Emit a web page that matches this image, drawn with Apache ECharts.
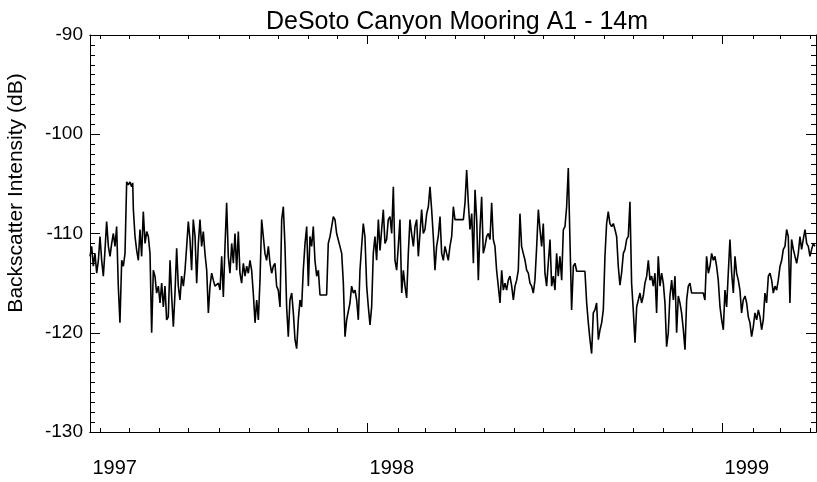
<!DOCTYPE html>
<html>
<head>
<meta charset="utf-8">
<script src="https://cdn.jsdelivr.net/npm/echarts@6/dist/echarts.min.js"></script>
<style>
html,body{margin:0;padding:0;background:#fff;}
#chart{width:817px;height:482px;}
</style>
</head>
<body>
<div id="chart"></div>
<script>
// time in days since 1997-01-01
const titleText = 'DeSoto Canyon Mooring A1 - 14m';
const yAxisName = 'Backscatter Intensity (dB)';
const yearLabels = ['1997', '1998', '1999'];
const yearLabelDays = [82, 367, 732];
const yearStartDays = [365, 730];
const monthStartDays = [90,120,151,181,212,243,273,304,334,365,396,424,455,485,516,546,577,608,638,669,699,730,761,789,820];
const yTicks = [-130, -120, -110, -100, -90];

const days = [
79.5,81.2,82.9,84.6,86.4,88.1,89.8,91.5,93.2,94.9,96.6,98.4,100.1,101.8,103.5,105.2,106.9,108.6,110.3,112.1,
113.8,115.5,117.2,118.9,120.6,122.3,123.4,124.1,125.8,127.5,129.2,130.9,132.6,134.3,136.1,137.8,139.5,141.2,142.9,144.6,
146.3,148.0,149.8,151.5,153.2,154.9,156.6,158.3,160.0,161.8,163.5,165.2,166.9,168.6,170.3,172.0,173.7,175.5,177.2,178.9,
180.6,182.3,184.0,185.7,187.5,189.2,190.9,192.6,194.3,196.0,197.7,199.5,201.2,202.9,204.6,206.3,208.0,209.7,211.5,213.2,
214.9,216.6,218.3,220.0,221.7,223.4,225.2,226.9,228.6,230.3,232.0,233.7,235.4,237.2,238.9,240.6,242.3,244.0,245.7,247.4,
249.2,250.9,252.6,254.3,256.0,257.7,259.4,261.1,262.9,264.6,266.3,268.0,269.7,271.4,273.1,274.9,276.6,278.3,280.0,281.7,
283.4,285.1,286.9,288.6,290.3,292.0,293.7,295.4,297.1,298.8,300.6,302.3,304.0,305.7,307.4,309.1,310.8,312.6,314.3,316.0,
322.8,324.5,326.3,328.0,329.7,331.4,333.1,334.8,336.5,338.3,340.0,341.7,343.4,345.1,346.8,348.5,350.3,352.0,353.7,355.4,
357.1,358.8,360.5,362.2,364.0,365.7,367.4,369.1,370.8,372.5,374.2,376.0,377.7,379.4,381.1,382.8,384.5,386.2,388.0,389.7,
391.4,393.1,394.8,396.5,398.2,400.0,401.7,403.4,405.1,406.8,408.5,410.2,412.0,413.7,415.4,417.1,418.8,420.5,422.2,423.9,
425.7,427.4,429.1,430.8,432.5,434.2,435.9,437.6,439.4,441.1,442.8,444.5,446.2,447.9,449.6,451.4,453.1,454.8,463.4,465.1,
466.8,468.5,470.2,472.0,473.7,475.4,477.1,478.8,480.5,482.2,483.9,485.6,487.4,489.1,490.8,492.5,494.2,495.9,497.6,499.3,
501.1,502.8,504.5,506.2,507.9,509.6,511.3,513.1,514.8,516.5,518.2,519.9,521.6,523.3,525.0,526.8,528.5,530.2,531.9,533.6,
535.3,537.0,538.8,540.5,542.2,543.9,545.6,547.3,549.0,550.7,552.5,554.2,555.9,557.6,559.3,561.0,562.7,564.5,566.2,567.9,
569.6,571.3,573.0,574.7,576.5,578.2,579.9,588.4,590.2,591.9,593.6,595.3,597.0,598.7,600.4,602.2,603.9,605.6,607.3,609.0,
610.7,612.4,614.1,615.9,617.6,619.3,621.0,622.7,624.4,626.1,627.9,629.6,631.3,633.0,634.7,636.4,638.1,639.9,641.6,643.3,
645.0,646.7,648.4,650.1,651.9,653.6,655.3,657.0,658.7,660.4,662.1,663.8,665.6,667.3,669.0,670.7,672.4,674.1,675.8,677.6,
679.3,681.0,682.7,684.4,686.1,687.8,689.6,691.3,693.0,694.7,696.4,698.1,710.1,711.8,713.5,715.3,717.0,718.7,720.4,722.1,
723.8,725.5,727.3,729.0,730.7,732.4,734.1,735.8,737.5,739.3,741.0,742.7,744.4,746.1,747.8,749.5,751.2,753.0,754.7,756.4,
758.1,759.8,761.5,763.2,765.0,766.7,768.4,770.1,771.8,773.5,775.2,777.0,778.7,780.4,782.1,783.8,785.5,787.2,789.0,790.7,
792.4,794.1,795.8,797.5,799.2,800.9,802.7,804.4,806.1,807.8,809.5,811.2,812.9,814.7,816.4,818.1,819.8,821.5,823.2,824.9
];

const values = [
-112.3,-111.3,-113.3,-112.0,-114.0,-112.7,-110.3,-112.7,-114.3,-111.7,-108.8,-111.3,-112.3,-111.0,-110.0,-111.3,-109.3,-115.3,-119.0,-112.7,
-113.3,-112.0,-104.8,-105.1,-104.8,-105.3,-104.9,-107.6,-110.3,-111.7,-112.7,-109.6,-112.3,-107.8,-111.0,-109.8,-110.3,-112.0,-120.0,-113.7,
-114.3,-116.0,-115.3,-117.0,-115.0,-117.4,-115.3,-118.7,-118.4,-112.7,-116.4,-119.4,-116.0,-111.5,-115.3,-116.7,-114.3,-115.3,-113.7,-111.3,
-108.8,-110.6,-113.7,-108.6,-110.3,-115.0,-111.0,-108.6,-111.3,-109.8,-112.0,-113.7,-118.0,-115.3,-114.0,-114.7,-115.3,-115.3,-115.0,-115.7,
-112.3,-116.4,-111.3,-106.9,-112.3,-114.0,-111.0,-113.0,-110.0,-113.7,-109.8,-114.0,-115.0,-113.0,-114.3,-113.3,-114.0,-112.7,-113.7,-116.0,
-119.0,-116.7,-118.7,-114.7,-108.6,-110.3,-112.0,-112.7,-111.3,-113.0,-114.0,-113.3,-113.0,-115.3,-115.7,-117.4,-108.6,-107.3,-111.3,-117.4,
-120.4,-116.7,-116.0,-118.0,-120.7,-121.6,-118.7,-116.7,-117.4,-113.7,-111.0,-109.3,-115.3,-110.3,-111.3,-109.3,-112.7,-114.3,-113.7,-116.2,
-116.2,-111.0,-110.3,-109.3,-108.3,-108.6,-110.0,-110.0,-111.3,-112.0,-115.0,-120.4,-118.7,-118.7,-117.0,-115.3,-116.0,-115.7,-116.7,-118.7,
-113.7,-111.3,-109.0,-110.3,-115.3,-117.4,-119.2,-117.4,-112.0,-110.3,-112.7,-108.6,-111.7,-109.6,-107.6,-111.0,-110.6,-108.6,-108.3,-110.0,
-105.3,-112.7,-113.7,-111.3,-108.6,-116.0,-113.7,-115.3,-116.5,-112.0,-108.6,-110.0,-111.3,-109.3,-108.6,-112.3,-110.0,-107.6,-110.0,-109.6,
-108.0,-107.3,-105.3,-107.6,-110.3,-113.7,-111.3,-110.3,-108.3,-112.0,-112.7,-111.3,-112.0,-112.7,-111.3,-110.3,-107.3,-108.6,-108.6,-106.9,
-103.6,-106.9,-109.6,-108.0,-113.0,-105.6,-108.6,-114.7,-109.6,-106.3,-112.0,-111.3,-110.3,-110.0,-110.6,-106.9,-110.6,-111.3,-113.7,-115.3,
-117.0,-113.7,-115.7,-115.0,-115.7,-114.7,-114.3,-115.3,-116.7,-115.3,-114.7,-113.7,-108.0,-111.3,-112.0,-112.7,-113.7,-114.0,-115.0,-115.3,
-116.0,-114.7,-111.3,-107.6,-109.6,-111.3,-109.0,-114.0,-115.3,-113.0,-110.6,-115.3,-114.3,-115.7,-112.0,-114.3,-112.3,-114.7,-109.6,-109.3,
-107.3,-103.4,-110.6,-117.7,-113.3,-113.0,-113.8,-113.8,-117.0,-119.0,-120.7,-122.1,-118.0,-117.7,-117.0,-120.7,-119.7,-119.0,-117.7,-112.3,
-109.0,-107.8,-109.0,-109.3,-109.0,-109.6,-110.3,-113.3,-115.2,-114.0,-112.0,-111.6,-110.6,-110.3,-106.8,-115.0,-117.7,-121.0,-117.4,-116.7,
-116.0,-117.0,-116.3,-115.0,-114.3,-112.7,-114.7,-114.3,-115.3,-114.0,-118.0,-112.3,-115.3,-114.0,-115.0,-117.0,-121.4,-120.0,-116.3,-114.7,
-116.7,-114.3,-120.0,-116.3,-117.0,-118.0,-119.7,-121.7,-116.7,-115.3,-115.0,-116.0,-116.0,-116.7,-112.3,-114.0,-113.3,-112.0,-112.7,-112.3,
-113.3,-114.7,-117.4,-118.7,-119.7,-115.7,-117.4,-114.0,-110.6,-114.0,-116.0,-112.3,-114.0,-114.7,-115.7,-118.0,-116.7,-116.3,-117.0,-118.4,
-119.0,-120.4,-119.4,-118.0,-118.7,-117.7,-118.4,-119.7,-118.7,-116.0,-117.0,-114.3,-114.0,-114.7,-116.0,-115.3,-115.7,-114.7,-113.3,-112.7,
-111.6,-111.3,-109.6,-110.3,-117.0,-110.6,-111.6,-112.3,-113.0,-112.0,-110.3,-111.6,-110.6,-109.6,-111.0,-111.3,-112.3,-111.6,-111.0,-111.3
];

const FONT = "'Liberation Sans', Arial, Helvetica, sans-serif";
const black = '#000';
const seriesData = days.map((d, i) => [d, values[i]]);

const chart = echarts.init(document.getElementById('chart'), null, {renderer: 'canvas'});

const xBase = {
  type: 'value', min: 79.5, max: 826, gridIndex: 0,
  splitLine: {show: false},
  axisLine: {show: true, onZero: false, lineStyle: {color: black, width: 1}}
};

const option = {
  backgroundColor: '#fff',
  animation: false,
  title: {
    text: titleText, left: 452, top: 5, textAlign: 'center',
    textStyle: {fontFamily: FONT, fontSize: 25, fontWeight: 'normal', color: black}
  },
  graphic: [{
    type: 'text', x: 6, y: 193, rotation: Math.PI / 2,
    style: {text: yAxisName, fontFamily: FONT, fontSize: 21, fill: black,
      align: 'center', verticalAlign: 'top'}
  }],
  grid: {left: 90, right: 1, top: 35, bottom: 50, containLabel: false},
  xAxis: [
    Object.assign({}, xBase, {
      position: 'bottom',
      axisTick: {show: true, inside: true, length: 4, customValues: monthStartDays, lineStyle: {color: black}},
      axisLabel: {show: true, customValues: yearLabelDays, align: 'left', margin: 26,
        fontFamily: FONT, fontSize: 20, color: black,
        formatter: v => yearLabels[yearLabelDays.indexOf(v)] || ''}
    }),
    Object.assign({}, xBase, {
      position: 'bottom',
      axisTick: {show: true, inside: true, length: 9, customValues: yearStartDays, lineStyle: {color: black}},
      axisLabel: {show: false}
    }),
    Object.assign({}, xBase, {
      position: 'top',
      axisTick: {show: true, inside: true, length: 4, customValues: monthStartDays, lineStyle: {color: black}},
      axisLabel: {show: false}
    }),
    Object.assign({}, xBase, {
      position: 'top',
      axisTick: {show: true, inside: true, length: 9, customValues: yearStartDays, lineStyle: {color: black}},
      axisLabel: {show: false}
    })
  ],
  yAxis: [
    {
      type: 'value', min: -130, max: -90, interval: 10, position: 'left',
      splitLine: {show: false},
      axisLine: {show: true, onZero: false, lineStyle: {color: black}},
      axisTick: {show: true, inside: true, length: 10, lineStyle: {color: black}},
      minorTick: {show: true, splitNumber: 10, length: 5, lineStyle: {color: black}},
      axisLabel: {show: true, margin: 7, fontFamily: FONT, fontSize: 19, color: black,
        customValues: yTicks, formatter: v => String(v)}
    },
    {
      type: 'value', min: -130, max: -90, interval: 10, position: 'right',
      splitLine: {show: false},
      axisLine: {show: true, onZero: false, lineStyle: {color: black}},
      axisTick: {show: true, inside: true, length: 10, lineStyle: {color: black}},
      minorTick: {show: true, splitNumber: 10, length: 5, lineStyle: {color: black}},
      axisLabel: {show: false}
    }
  ],
  series: [{
    type: 'line', xAxisIndex: 0, yAxisIndex: 0,
    data: seriesData, showSymbol: false, symbol: 'none',
    lineStyle: {color: black, width: 1.6}, clip: true
  }]
};
chart.setOption(option);
</script>
</body>
</html>
